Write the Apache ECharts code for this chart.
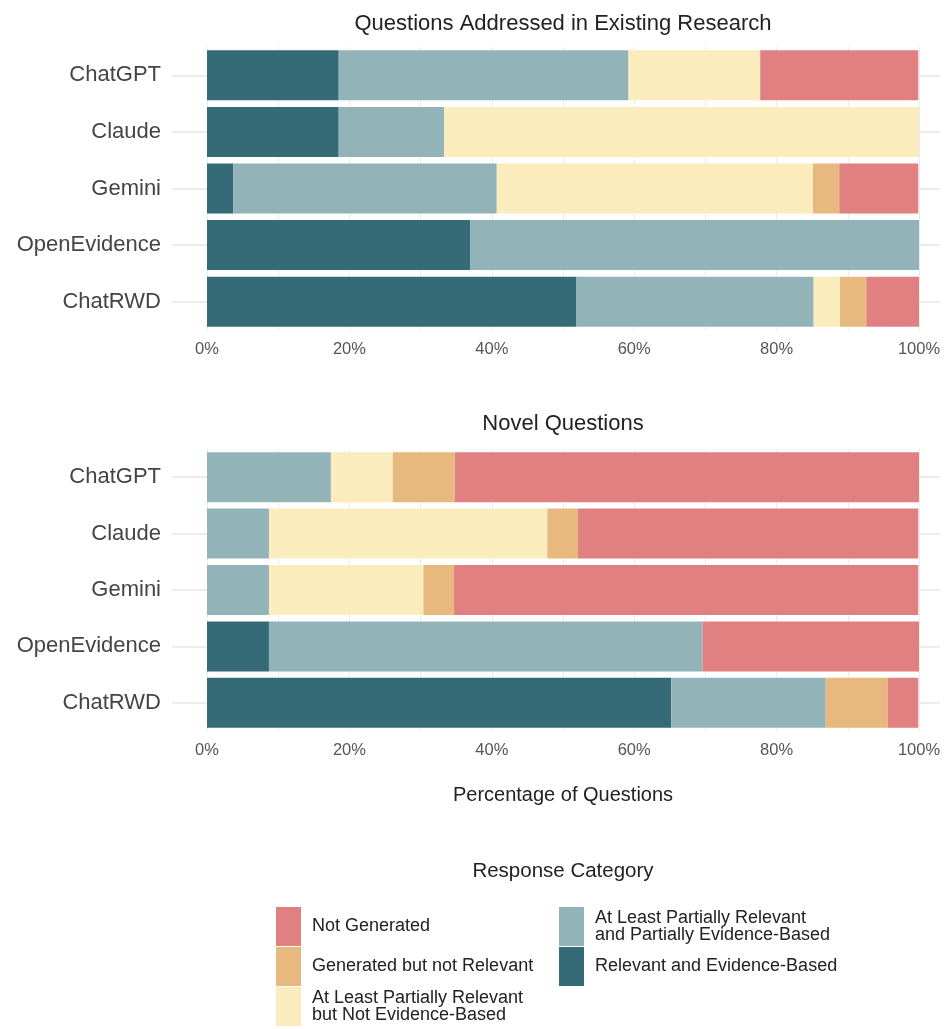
<!DOCTYPE html>
<html>
<head>
<meta charset="utf-8">
<script src="https://cdn.jsdelivr.net/npm/echarts@6/dist/echarts.min.js"></script>
<style>
html,body{margin:0;padding:0;background:#fff;}
#chart{width:944px;height:1029px;}
</style>
</head>
<body>
<div id="chart"></div>
<script>
// ---- data ----
const models = ['ChatGPT', 'Claude', 'Gemini', 'OpenEvidence', 'ChatRWD'];
const xTicks = [0, 20, 40, 60, 80, 100];
const categoryNames = [
  'Relevant and Evidence-Based',
  'At Least Partially Relevant and Partially Evidence-Based',
  'At Least Partially Relevant but Not Evidence-Based',
  'Generated but not Relevant',
  'Not Generated'
];
// Panel 1: Questions Addressed in Existing Research (% of questions)
const existingRelevantEB   = [18.5, 18.5, 3.7, 37.0, 51.9];
const existingPartialEB    = [40.7, 14.8, 37.0, 63.0, 33.3];
const existingNotEB        = [18.5, 66.7, 44.4, 0, 3.7];
const existingNotRelevant  = [0, 0, 3.7, 0, 3.7];
const existingNotGenerated = [22.2, 0, 11.1, 0, 7.4];
// Panel 2: Novel Questions (% of questions)
const novelRelevantEB   = [0, 0, 0, 8.7, 65.2];
const novelPartialEB    = [17.4, 8.7, 8.7, 60.9, 21.7];
const novelNotEB        = [8.7, 39.1, 21.7, 0, 0];
const novelNotRelevant  = [8.7, 4.3, 4.3, 0, 8.7];
const novelNotGenerated = [65.2, 47.8, 65.2, 30.4, 4.3];

const colors = ['#346b76', '#92b4b8', '#fbecbd', '#e8b97f', '#e08080'];
const legendLabels = {
  'Not Generated': 'Not Generated',
  'Generated but not Relevant': 'Generated but not Relevant',
  'At Least Partially Relevant but Not Evidence-Based': 'At Least Partially Relevant\nbut Not Evidence-Based',
  'At Least Partially Relevant and Partially Evidence-Based': 'At Least Partially Relevant\nand Partially Evidence-Based',
  'Relevant and Evidence-Based': 'Relevant and Evidence-Based'
};

const panels = [
  [existingRelevantEB, existingPartialEB, existingNotEB, existingNotRelevant, existingNotGenerated],
  [novelRelevantEB, novelPartialEB, novelNotEB, novelNotRelevant, novelNotGenerated]
];

const FONT = 'Liberation Sans, Arial, sans-serif';
const chart = echarts.init(document.getElementById('chart'));

const grids = [
  {left: 207, width: 712, top: 47, height: 283},
  {left: 207, width: 712, top: 449, height: 282}
];

const xAxes = grids.map((g, i) => ({
  type: 'value', gridIndex: i, min: 0, max: 100, interval: 10,
  axisLine: {show: false}, axisTick: {show: false},
  axisLabel: {
    margin: 11, color: '#555', fontSize: 16.5, fontFamily: FONT,
    formatter: v => (xTicks.indexOf(v) >= 0 ? v + '%' : '')
  },
  splitLine: {show: true, lineStyle: {color: '#ebebeb', width: 1}},
  name: i === 1 ? 'Percentage of Questions' : '',
  nameLocation: 'middle', nameGap: 54,
  nameTextStyle: {color: '#222', fontSize: 20, fontFamily: FONT}
}));

const yAxes = [];
grids.forEach((g, i) => {
  yAxes.push({
    type: 'category', gridIndex: i, data: models, inverse: true,
    axisLine: {show: false},
    axisTick: {show: true, alignWithLabel: true, length: 35, lineStyle: {color: '#e6e6e6', width: 1.5}},
    axisLabel: {margin: 46, color: '#444', fontSize: 22, fontFamily: FONT}
  });
  yAxes.push({
    type: 'category', gridIndex: i, data: models, inverse: true, position: 'right',
    axisLine: {show: false},
    axisTick: {show: true, alignWithLabel: true, length: 21, lineStyle: {color: '#e6e6e6', width: 1.5}},
    axisLabel: {show: false}
  });
});

const series = [];
panels.forEach((vals, p) => {
  vals.forEach((arr, k) => {
    series.push({
      name: categoryNames[k], type: 'bar', stack: 'p' + p,
      xAxisIndex: p, yAxisIndex: p * 2, data: arr,
      barWidth: 50,
      itemStyle: {color: colors[k]},
      emphasis: {disabled: true}
    });
  });
});

const legendCommon = {
  orient: 'vertical', icon: 'rect', itemWidth: 25, itemHeight: 39, itemGap: 1,
  padding: 0, height: 130,
  selectedMode: false,
  formatter: name => legendLabels[name],
  textStyle: {fontSize: 18, color: '#222', fontFamily: FONT, lineHeight: 17, padding: [0, 0, 0, 6]}
};

chart.setOption({
  backgroundColor: '#fff',
  animation: false,
  title: [
    {text: 'Questions Addressed in Existing Research', left: 563, top: 13, textAlign: 'center', padding: 0,
     textStyle: {fontSize: 22, fontWeight: 'normal', color: '#222', fontFamily: FONT}},
    {text: 'Novel Questions', left: 563, top: 413, textAlign: 'center', padding: 0,
     textStyle: {fontSize: 22, fontWeight: 'normal', color: '#222', fontFamily: FONT}},
    {text: 'Response Category', left: 563, top: 861, textAlign: 'center', padding: 0,
     textStyle: {fontSize: 20.5, fontWeight: 'normal', color: '#222', fontFamily: FONT}}
  ],
  grid: grids,
  xAxis: xAxes,
  yAxis: yAxes,
  legend: [
    Object.assign({}, legendCommon, {left: 276, top: 907,
      data: ['Not Generated', 'Generated but not Relevant', 'At Least Partially Relevant but Not Evidence-Based']}),
    Object.assign({}, legendCommon, {left: 559, top: 907,
      data: ['At Least Partially Relevant and Partially Evidence-Based', 'Relevant and Evidence-Based']})
  ],
  series: series
});
</script>
</body>
</html>
